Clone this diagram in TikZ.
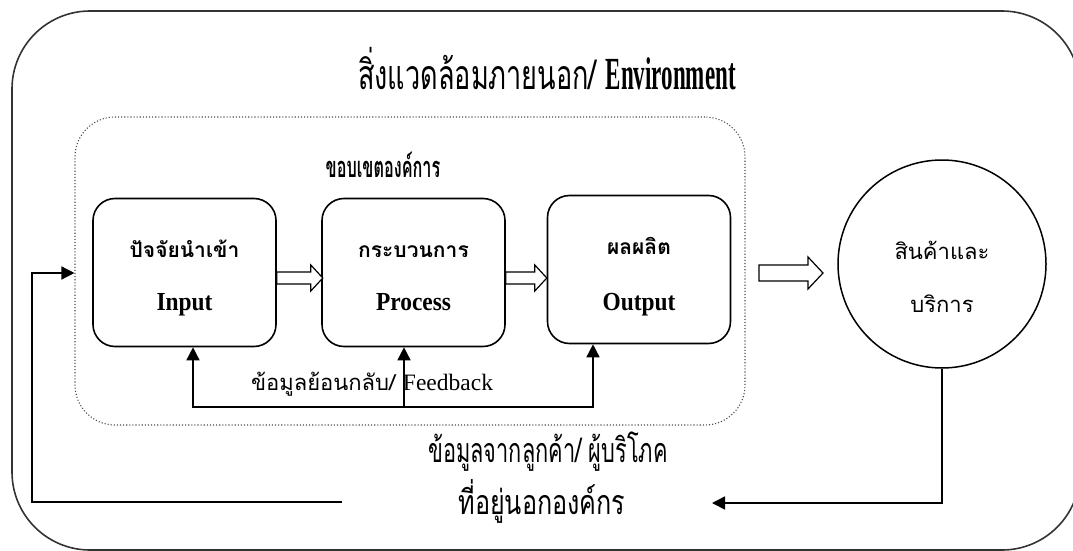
\documentclass[tikz,border=0pt]{standalone}
\usepackage{fontspec}
\setmainfont{Liberation Serif}
\newfontfamily\thai[Script=Thai]{Loma}
\usetikzlibrary{arrows.meta,calc}

% narrow setting for the tall, condensed captions
\newcommand{\narrow}[2]{\scalebox{#1}[1]{#2}}
% bold Latin stage names
\newcommand{\stagename}[1]{\narrow{0.9}{\bfseries\fontsize{26}{28}\selectfont #1}}

\tikzset{
  frame/.style={draw=black!80, line width=1.6pt, rounded corners=78pt, inner sep=0pt},
  orgzone/.style={draw=black!70, dotted, line width=1.1pt, rounded corners=40pt, inner sep=0pt},
  stage/.style={draw, line width=1.6pt, rounded corners=22pt, minimum width=183pt,
                minimum height=148pt, inner sep=0pt},
  goodsring/.style={draw, circle, line width=1.5pt, minimum size=208pt, inner sep=0pt},
  link/.style={line width=1.5pt, -{Triangle[length=13pt,width=13pt]}},
  hollow/.style={draw, line width=1.2pt, fill=white, line join=miter},
  txt/.style={inner sep=0pt, anchor=base},
  thaistage/.style={txt, font=\thai\bfseries\fontsize{21}{24}\selectfont},
  thaiplain/.style={txt, font=\thai\fontsize{22}{24}\selectfont},
  pics/blockarrow/.style n args={4}{code={
    \draw[hollow] (0,-#2) -- ({#1-#4},-#2) -- ({#1-#4},-#3) -- (#1,0)
      -- ({#1-#4},#3) -- ({#1-#4},#2) -- (0,#2) -- cycle;}},
}

\begin{document}
\begin{tikzpicture}[x=1pt,y=-1pt]
\useasboundingbox (0,0) rectangle (1073,551);

% outer environment frame (its right side runs past the page edge)
\node[frame, minimum width=1068pt, minimum height=539pt] (env) at (546,280.5) {};
\node[txt] (title) at (547,89)
  {\narrow{0.66}{\thai\fontsize{41}{44}\selectfont สิ่งแวดล้อมภายนอก/ }%
   \narrow{0.5}{\bfseries\fontsize{46}{50}\selectfont Environment}};

% organisation boundary
\node[orgzone, minimum width=670pt, minimum height=308pt] (org) at (410,271) {};
\node[txt] (orgname) at (383,177)
  {\narrow{0.56}{\thai\bfseries\fontsize{29}{32}\selectfont ขอบเขตองค์การ}};

% three stages
\node[stage] (in)  at (184.5,272.5) {};
\node[stage] (pr)  at (413.5,272.5) {};
\node[stage] (out) at (639,269.5) {};

\node[thaistage] (inTh)  at (in.center |- 0,257)  {ปัจจัยนำเข้า};
\node[txt]       (inEn)  at (in.center |- 0,310)  {\stagename{Input}};
\node[thaistage] (prTh)  at (pr.center |- 0,257)  {กระบวนการ};
\node[txt]       (prEn)  at (pr.center |- 0,310)  {\stagename{Process}};
\node[thaistage] (outTh) at (out.center |- 0,254) {ผลผลิต};
\node[txt]       (outEn) at (out.center |- 0,310) {\stagename{Output}};

% flow between stages
\coordinate (row) at (0,278);
\pic at (in.east |- row) {blockarrow={46}{6}{13}{12}};
\pic at (pr.east |- row) {blockarrow={41}{6}{13}{12}};

% products and services
\node[goodsring] (goods) at (942,264) {};
\node[thaiplain] (goodsA) at (942,259) {สินค้าและ};
\node[thaiplain] (goodsB) at (942,312) {บริการ};
\coordinate (bigstart) at (759,273);
\pic at (bigstart) {blockarrow={64}{8}{16}{15}};

% internal feedback bus
\coordinate (fbL) at (193,407);
\coordinate (fbM) at (404,407);
\coordinate (fbR) at (593,407);
\draw[link] (fbM) -| (fbL |- in.south);
\draw[link] (fbM) -| (fbR |- out.south);
\draw[link] (fbM) -- (fbM |- pr.south);
\node[txt] (fbtext) at (372,390)
  {{\thai\fontsize{22}{24}\selectfont ข้อมูลย้อนกลับ/ }{\fontsize{23.5}{26}\selectfont Feedback}};

% customer feedback from outside the organisation
\coordinate (rtip) at (712,503);
\draw[link] (goods.south) |- (rtip);
\coordinate (lstart) at (342,502);
\coordinate (lcorner) at (32,273);
\draw[link] (lstart) -| (lcorner) -- (org.west |- lcorner);

\node[txt] (custA) at (548,462)
  {\narrow{0.64}{\thai\fontsize{34}{38}\selectfont ข้อมูลจากลูกค้า/ ผู้บริโภค}};
\node[txt] (custB) at (542,514)
  {\narrow{0.74}{\thai\fontsize{34}{38}\selectfont ที่อยู่นอกองค์กร}};
\end{tikzpicture}
\end{document}
